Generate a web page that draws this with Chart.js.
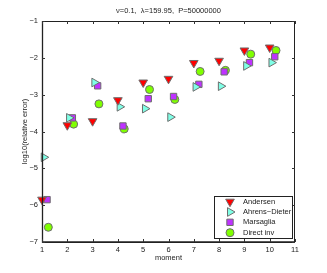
<!DOCTYPE html>
<html>
<head>
<meta charset="utf-8">
<script src="https://cdn.jsdelivr.net/npm/chart.js@4/dist/chart.umd.min.js"></script>
<style>
  body { margin: 0; background: #fff; }
  canvas { display: block; }
</style>
</head>
<body>
<canvas id="chart" width="327" height="273"></canvas>
<script>
// dados
const moments = [1, 2, 3, 4, 5, 6, 7, 8, 9, 10];
const andersen = [-5.85, -3.83, -3.72, -3.15, -2.67, -2.57, -2.14, -2.08, -1.80, -1.72];
const ahrensDieter = [-4.70, -3.63, -2.67, -3.33, -3.38, -3.61, -2.79, -2.77, -2.22, -2.13];
const marsaglia = [-5.85, -3.63, -2.76, -3.85, -3.11, -3.05, -2.72, -2.38, -2.13, -1.97];
const directInv = [-6.60, -3.80, -3.25, -3.93, -2.86, -3.13, -2.37, -2.34, -1.90, -1.80];
const seriesNames = ['Andersen', 'Ahrens\u2212Dieter', 'Marsaglia', 'Direct inv'];
const xTicks = [1, 2, 3, 4, 5, 6, 7, 8, 9, 10, 11];
const yTicks = [-7, -6, -5, -4, -3, -2, -1];

const FONT = 'Liberation Sans, Arial, sans-serif';
const edge = 'rgb(110,110,110)';

function pts(vals, shift) {
  return vals.map((v, i) => ({ x: moments[i] + shift, y: v }));
}

const styles = [
  { color: 'rgb(255,0,0)', pointStyle: 'triangle', rotation: 180, radius: 5, shift: 0 },
  { color: 'rgb(127,255,230)', pointStyle: 'triangle', rotation: 90, radius: 5, shift: 0.07 },
  { color: 'rgb(190,50,255)', pointStyle: 'rect', rotation: 0, radius: 4.5, shift: 0.2 },
  { color: 'rgb(127,255,0)', pointStyle: 'circle', rotation: 0, radius: 4, shift: 0.25 },
];
const allValues = [andersen, ahrensDieter, marsaglia, directInv];

const datasets = allValues.map((vals, k) => ({
  label: seriesNames[k],
  data: pts(vals, styles[k].shift),
  backgroundColor: styles[k].color,
  borderColor: edge,
  borderWidth: 1,
  pointStyle: styles[k].pointStyle,
  rotation: styles[k].rotation,
  pointRadius: styles[k].radius,
  showLine: false,
  clip: false,
}));

// eixos estilo matlab: caixa, ticks para dentro, titulo e legenda
const matlabLook = {
  id: 'matlabLook',
  afterDraw(chart) {
    const ctx = chart.ctx;
    const a = chart.chartArea;
    const xs = chart.scales.x, ys = chart.scales.y;
    ctx.save();
    // caixa
    ctx.strokeStyle = '#222';
    ctx.lineWidth = 1;
    ctx.strokeRect(a.left + 0.5, a.top + 0.5, a.right - a.left - 1, a.bottom - a.top);
    ctx.lineWidth = 1.3;
    ctx.beginPath();
    ctx.moveTo(a.left + 0.5, a.top);
    ctx.lineTo(a.left + 0.5, a.bottom);
    ctx.lineTo(a.right, a.bottom);
    ctx.stroke();
    // ticks para dentro
    ctx.lineWidth = 1;
    ctx.strokeStyle = '#333';
    ctx.beginPath();
    xTicks.forEach(t => {
      const px = Math.round(xs.getPixelForValue(t)) + 0.5;
      ctx.moveTo(px, a.bottom); ctx.lineTo(px, a.bottom - 3);
      ctx.moveTo(px, a.top); ctx.lineTo(px, a.top + 3);
    });
    yTicks.forEach(t => {
      const py = Math.round(ys.getPixelForValue(t)) + 0.5;
      ctx.moveTo(a.left, py); ctx.lineTo(a.left + 3, py);
      ctx.moveTo(a.right, py); ctx.lineTo(a.right - 3, py);
    });
    ctx.stroke();
    // titulo
    ctx.fillStyle = '#222';
    ctx.font = '7.5px ' + FONT;
    ctx.textAlign = 'center';
    ctx.textBaseline = 'middle';
    ctx.fillText('\u03bd=0.1,  \u03bb=159.95,  P=50000000', (a.left + a.right) / 2, 11);
    // rotulo eixo y
    ctx.save();
    ctx.translate(25, (a.top + a.bottom) / 2);
    ctx.rotate(-Math.PI / 2);
    ctx.fillText('log10(relative error)', 0, 0);
    ctx.restore();
    // rotulo eixo x
    ctx.fillText('moment', (a.left + a.right) / 2, 258);
    // legenda
    const lx = 214, ly = 196, lw = 78, lh = 42;
    ctx.fillStyle = '#fff';
    ctx.fillRect(lx, ly, lw, lh);
    ctx.strokeStyle = '#222';
    ctx.strokeRect(lx + 0.5, ly + 0.5, lw, lh);
    const rows = [201.7, 212, 222.3, 232.7];
    chart.data.datasets.forEach((ds, k) => {
      ctx.fillStyle = ds.backgroundColor;
      ctx.strokeStyle = ds.borderColor;
      ctx.lineWidth = 1;
      Chart.helpers.drawPoint(ctx, {
        pointStyle: ds.pointStyle,
        rotation: ds.rotation,
        radius: ds.pointRadius,
        borderWidth: 1,
      }, 230, rows[k]);
      ctx.fillStyle = '#222';
      ctx.textAlign = 'left';
      ctx.fillText(ds.label, 243, rows[k]);
    });
    ctx.restore();
  }
};

new Chart(document.getElementById('chart'), {
  type: 'scatter',
  data: { datasets: datasets },
  options: {
    responsive: false,
    animation: false,
    layout: { padding: { top: 21, right: 32, left: 0, bottom: 0 } },
    plugins: {
      legend: { display: false },
      tooltip: { enabled: false },
    },
    scales: {
      x: {
        type: 'linear',
        min: 1,
        max: 11,
        afterFit(scale) { scale.height = 31; },
        afterBuildTicks(scale) { scale.ticks = xTicks.map(v => ({ value: v })); },
        ticks: {
          font: { family: FONT, size: 7.5 },
          color: '#222',
          padding: 3,
          maxRotation: 0,
        },
        grid: { display: false, drawTicks: false },
        border: { display: false },
      },
      y: {
        type: 'linear',
        min: -7,
        max: -1,
        afterFit(scale) { scale.width = 42; },
        afterBuildTicks(scale) { scale.ticks = yTicks.map(v => ({ value: v })); },
        ticks: {
          font: { family: FONT, size: 7.5 },
          color: '#222',
          padding: 4,
          callback: v => String(v).replace('-', '\u2212'),
        },
        grid: { display: false, drawTicks: false },
        border: { display: false },
      },
    },
  },
  plugins: [matlabLook],
});
</script>
</body>
</html>
